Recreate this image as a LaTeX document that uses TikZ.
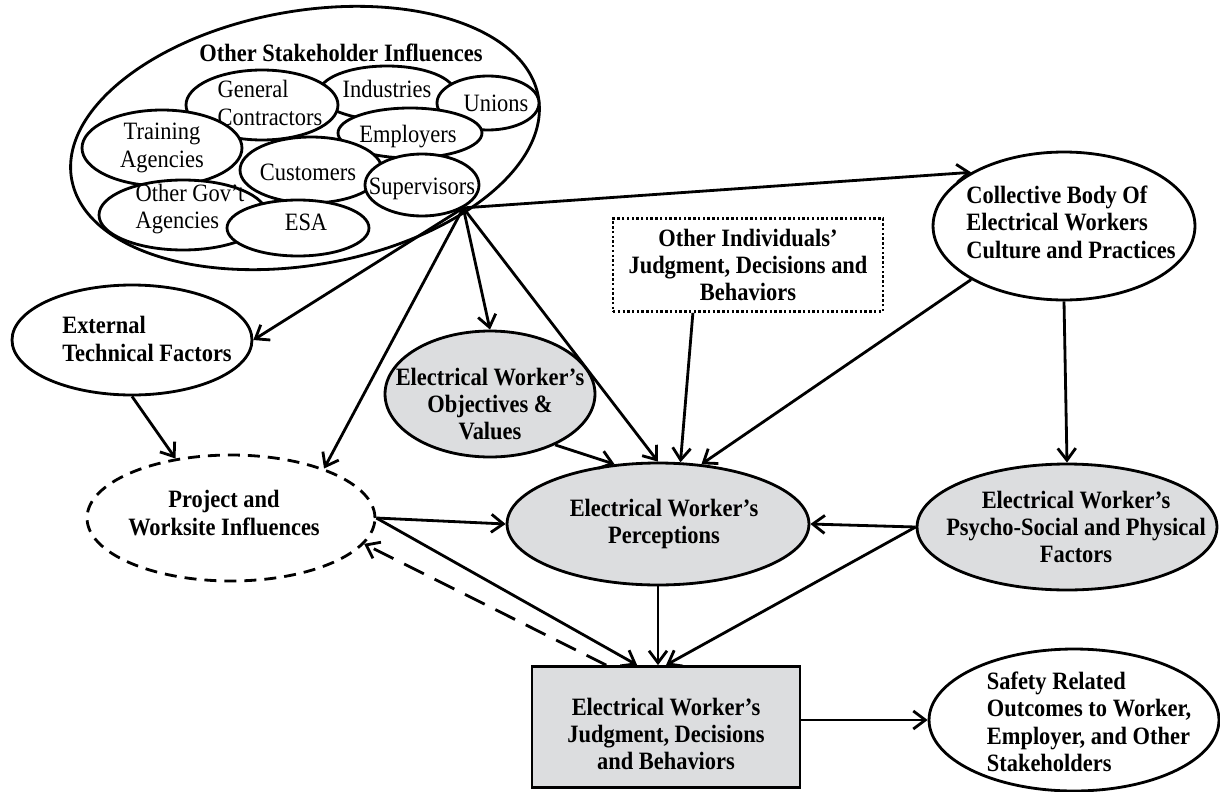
\documentclass[tikz,border=0pt]{standalone}
\usepackage{fontspec}
\setmainfont{Liberation Serif}[FakeStretch=0.9]
\usetikzlibrary{shapes.geometric,arrows.meta}
\definecolor{shade}{RGB}{220,221,223}
\tikzset{
  txt/.style={font=\fontsize{14.2}{15.6}\selectfont},
  btxt/.style={font=\fontsize{14.2}{15.6}\selectfont\bfseries},
  bubble/.style={draw,ellipse,inner sep=0pt,fill=white},
  arr/.style={-{Straight Barb[length=2.4mm,width=3.6mm]}},
}
\begin{document}
\begin{tikzpicture}[x=0.02cm,y=-0.02cm,line width=1.6pt]
\useasboundingbox (0,0) rectangle (1220,791);
% stakeholders
\node[draw,ellipse,rotate=10,minimum width=9.48cm,minimum height=5.08cm] (stake) at (305,138) {};
\node[btxt] (stake-t) at (341,53) {Other Stakeholder Influences};
\node[bubble,minimum width=2.72cm,minimum height=1.08cm,label={[txt,yshift=0.08cm]center:Industries}] (ind) at (387,93) {};
\node[bubble,minimum width=3.04cm,minimum height=1.40cm,label={[txt,align=left,xshift=0.16cm,yshift=0.04cm]center:General\\Contractors}] (gc) at (262,105) {};
\node[bubble,minimum width=2.04cm,minimum height=1.08cm,label={[txt,xshift=0.16cm]center:Unions}] (uni) at (488,103) {};
\node[bubble,minimum width=2.88cm,minimum height=1.0cm,label={[txt,xshift=-0.04cm,yshift=-0.08cm]center:Employers}] (emp) at (410,133) {};
\node[bubble,minimum width=3.2cm,minimum height=1.52cm,label={[txt,align=center]center:Training\\Agencies}] (trn) at (162,148) {};
\node[bubble,minimum width=2.84cm,minimum height=1.32cm,label={[txt,xshift=-0.06cm,yshift=-0.04cm]center:Customers}] (cus) at (311,170) {};
\node[bubble,minimum width=2.28cm,minimum height=1.24cm,label={[txt,yshift=-0.08cm]center:Supervisors}] (sup) at (422,185) {};
\node[bubble,minimum width=3.36cm,minimum height=1.40cm,label={[txt,align=left,xshift=0.14cm,yshift=0.12cm]center:Other Gov’t\\Agencies}] (gov) at (183,215) {};
\node[bubble,minimum width=2.84cm,minimum height=1.12cm,label={[txt,xshift=0.16cm,yshift=0.12cm]center:ESA}] (esa) at (298,228) {};
\coordinate (hub) at (sup.south east);
% factors
\node[bubble,minimum width=5.24cm,minimum height=2.96cm,label={[btxt,align=left,xshift=0.14cm,yshift=0.08cm]center:Collective Body Of\\Electrical Workers\\Culture and Practices}] (coll) at (1064,226) {};
\node[draw,btxt,align=center,dash pattern=on 1.4pt off 1.3pt,minimum width=5.4cm,minimum height=1.86cm] (oth) at (748,265) {Other Individuals’\\Judgment, Decisions and\\Behaviors};
\node[bubble,minimum width=4.8cm,minimum height=2.2cm,label={[btxt,align=left,xshift=0.3cm,yshift=0.02cm]center:External\\Technical Factors}] (ext) at (132,340) {};
\node[bubble,fill=shade,minimum width=4.2cm,minimum height=2.52cm,label={[btxt,align=center,yshift=-0.2cm]center:Electrical Worker’s\\Objectives \&\\Values}] (obj) at (490,394) {};
\node[bubble,dash pattern=on 0.24cm off 0.16cm,minimum width=5.76cm,minimum height=2.52cm,label={[btxt,align=center,xshift=-0.14cm,yshift=0.1cm]center:Project and\\Worksite Influences}] (proj) at (231,518) {};
\node[bubble,fill=shade,minimum width=6.04cm,minimum height=2.44cm,label={[btxt,align=center,xshift=0.12cm]center:Electrical Worker’s\\Perceptions}] (perc) at (658,524) {};
\node[bubble,fill=shade,minimum width=6.0cm,minimum height=2.52cm,label={[btxt,align=center,xshift=0.18cm]center:Electrical Worker’s\\Psycho-Social and Physical\\Factors}] (psy) at (1067,527) {};
\node[draw,fill=shade,minimum width=5.36cm,minimum height=2.42cm,label={[btxt,align=center,yshift=-0.14cm]center:Electrical Worker’s\\Judgment, Decisions\\and Behaviors}] (judg) at (666,727) {};
\node[bubble,minimum width=5.8cm,minimum height=2.84cm,label={[btxt,align=left,xshift=0.3cm,yshift=-0.04cm]center:Safety Related\\Outcomes to Worker,\\Employer, and Other\\Stakeholders}] (safe) at (1074,720) {};
% influences
\draw[arr] (hub) -- (coll.150);
\draw[arr] (hub) -- (ext.east);
\draw[arr] (hub) -- (obj.north);
\draw[arr] (hub) -- (perc.north);
\draw[arr] (hub) -- (proj.28);
\draw[arr] (oth.221) -- (perc.70);
\draw[arr] (coll.-150) -- (perc.54);
\draw[arr] (coll.south) -- (psy.north);
\draw[arr] (ext.south) -- (proj.133);
\draw[arr] (obj.-38) -- (perc.126);
\draw[arr] (proj.east) -- (perc.west);
\draw[arr] (psy.west) -- (perc.east);
\draw[arr] (proj.east) -- (judg.115);
\draw[arr] (perc.south) -- (perc.south |- judg.north);
\draw[arr] (psy.west) -- (judg.north);
\draw[arr,dash pattern=on 0.44cm off 0.24cm] (judg.134) -- (proj.-11);
\draw[arr] (judg.east |- safe.west) -- (safe.west);
\end{tikzpicture}
\end{document}
